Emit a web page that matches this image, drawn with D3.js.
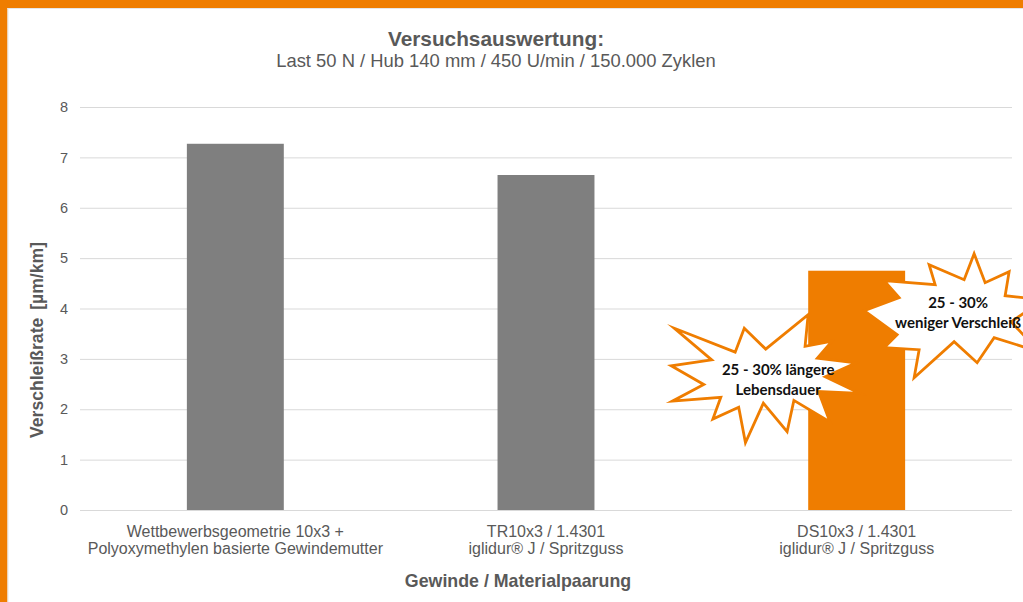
<!DOCTYPE html>
<html><head><meta charset="utf-8">
<script src="https://cdn.jsdelivr.net/npm/d3@7"></script>
<style>html,body{margin:0;padding:0;background:#fff;overflow:hidden}</style>
</head><body><svg id="c" width="1023" height="602"></svg>
<script>
// ---- data ----
const categories = [
  "Wettbewerbsgeometrie 10x3 +\nPolyoxymethylen basierte Gewindemutter",
  "TR10x3 / 1.4301\niglidur® J / Spritzguss",
  "DS10x3 / 1.4301\niglidur® J / Spritzguss"
];
const values = [7.27, 6.65, 4.75];
const highlighted = [false, false, true];
const yTicks = [0, 1, 2, 3, 4, 5, 6, 7, 8];
const titleText = "Versuchsauswertung:";
const subtitleText = "Last 50 N / Hub 140 mm / 450 U/min / 150.000 Zyklen";
const xAxisTitle = "Gewinde / Materialpaarung";
const yAxisTitle = "Verschleißrate [µm/km]";
const callout1 = ["25 - 30% längere", "Lebensdauer"];
const callout2 = ["25 - 30%", "weniger Verschleiß"];

// ---- drawing ----
const ORANGE = "#EF7D00", GRAY = "#7F7F7F", TXT = "#595959", GRID = "#D9D9D9";
const FONT = "'Liberation Sans', Arial, sans-serif";
const svg = d3.select("#c");
const m = {left: 80, right: 1012, top: 107, bottom: 510};

svg.append("rect").attr("x",0).attr("y",0).attr("width",1023).attr("height",602).attr("fill","#fff");

const x = d3.scaleBand().domain(categories).range([m.left, m.right]).paddingInner(0.688).paddingOuter(0.344);
const y = d3.scaleLinear().domain([0, 8]).range([m.bottom, m.top]);

// y axis with gridlines
const yAxis = svg.append("g").attr("transform", `translate(${m.left},0)`)
  .call(d3.axisLeft(y).tickValues(yTicks).tickSize(-(m.right - m.left)).tickPadding(12).tickFormat(d3.format("d")));
yAxis.select(".domain").remove();
yAxis.selectAll(".tick line").attr("stroke", GRID).attr("stroke-width", 1);
yAxis.selectAll(".tick text").attr("fill", TXT).style("font-family", FONT).style("font-size", "14.5px");

// bars
svg.append("g").selectAll("rect").data(categories).join("rect")
  .attr("x", d => x(d)).attr("width", x.bandwidth())
  .attr("y", (d, i) => y(values[i])).attr("height", (d, i) => y(0) - y(values[i]))
  .attr("fill", (d, i) => highlighted[i] ? ORANGE : GRAY);

// x axis labels
const xAxis = svg.append("g").attr("transform", `translate(0,${m.bottom})`)
  .call(d3.axisBottom(x).tickSize(0).tickFormat(""));
xAxis.select(".domain").remove();
xAxis.selectAll(".tick").each(function(d) {
  const t = d3.select(this).append("text").attr("fill", TXT).attr("text-anchor", "middle")
    .style("font-family", FONT).style("font-size", "16px");
  d.split("\n").forEach((line, k) => {
    t.append("tspan").attr("x", 0).attr("y", 27 + k * 16.5).text(line);
  });
});

// titles
svg.append("text").attr("x", 496).attr("y", 45.5).attr("text-anchor", "middle")
  .attr("fill", TXT).style("font-family", FONT).style("font-size", "20.8px").style("font-weight", "bold").text(titleText);
svg.append("text").attr("x", 496).attr("y", 67).attr("text-anchor", "middle")
  .attr("fill", TXT).style("font-family", FONT).style("font-size", "18.4px").text(subtitleText);
svg.append("text").attr("x", 518).attr("y", 587).attr("text-anchor", "middle")
  .attr("fill", TXT).style("font-family", FONT).style("font-size", "17.8px").style("font-weight", "bold").text(xAxisTitle);
svg.append("text").attr("transform", "translate(43,340) rotate(-90)").attr("text-anchor", "middle")
  .attr("fill", TXT).style("font-family", FONT).style("font-size", "17.6px").style("font-weight", "bold")
  .style("word-spacing", "3px").text(yAxisTitle);

// callout starbursts anchored to the highlighted bar
const hi = categories[2];
const barL = x(hi), barR = x(hi) + x.bandwidth(), barT = y(values[2]);
const seal1 = [[10800,5800],[15650,0],[15300,5325],[18380,4457],[16702,7315],[21097,8137],[17607,10475],[21600,13290],
  [16837,12942],[18145,18095],[14020,14457],[13247,19737],[10532,14935],[8485,21600],[7715,15627],[4762,17617],
  [5667,13937],[135,14587],[3722,11775],[0,8615],[4627,7617],[370,2295],[7312,6320],[8352,2295]];
const b1 = {x: barL - 137, y: barT + 44, w: 189, h: 128};
const star1 = seal1.map(([px, py]) => [b1.x + px / 21600 * b1.w, b1.y + py / 21600 * b1.h]);
const star2rel = [[69,-17],[80,12],[104,1],[100,25],[139,29],[106,51],[134,81],[89,67],[72,92],[49,71],[9,107],[14,79],
  [-21,77],[-8,64],[-41,40],[-6,27],[-21,10],[30,14],[24,-6],[59,9]];
const star2 = star2rel.map(([dx, dy]) => [barR + dx, barT + dy]);
const line = d3.line().curve(d3.curveLinearClosed);
[star1, star2].forEach(s => {
  svg.append("path").attr("d", line(s)).attr("fill", "#fff").attr("stroke", ORANGE)
    .attr("stroke-width", 2.8).attr("stroke-linejoin", "miter").attr("stroke-miterlimit", 10);
});
const CFONT = "Lato, 'Open Sans', sans-serif";
function callout(lines, cx, by) {
  const t = svg.append("text").attr("text-anchor", "middle").attr("fill", "#111")
    .style("font-family", CFONT).style("font-size", "15px").style("font-weight", "bold");
  lines.forEach((l, k) => t.append("tspan").attr("x", cx).attr("y", by + k * 19.5).text(l));
}
callout(callout1, barL - 30, barT + 104.5);
callout(callout2, barR + 53, barT + 37.5);

// frame
svg.append("rect").attr("x", 0).attr("y", 0).attr("width", 1023).attr("height", 8).attr("fill", ORANGE);
svg.append("rect").attr("x", 0).attr("y", 0).attr("width", 7.5).attr("height", 602).attr("fill", ORANGE);
svg.append("line").attr("x1", 7.5).attr("x2", 1023).attr("y1", 8.5).attr("y2", 8.5).attr("stroke", "#e6e6e6");
svg.append("line").attr("x1", 8).attr("x2", 8).attr("y1", 8).attr("y2", 602).attr("stroke", "#e6e6e6");
</script></body></html>
